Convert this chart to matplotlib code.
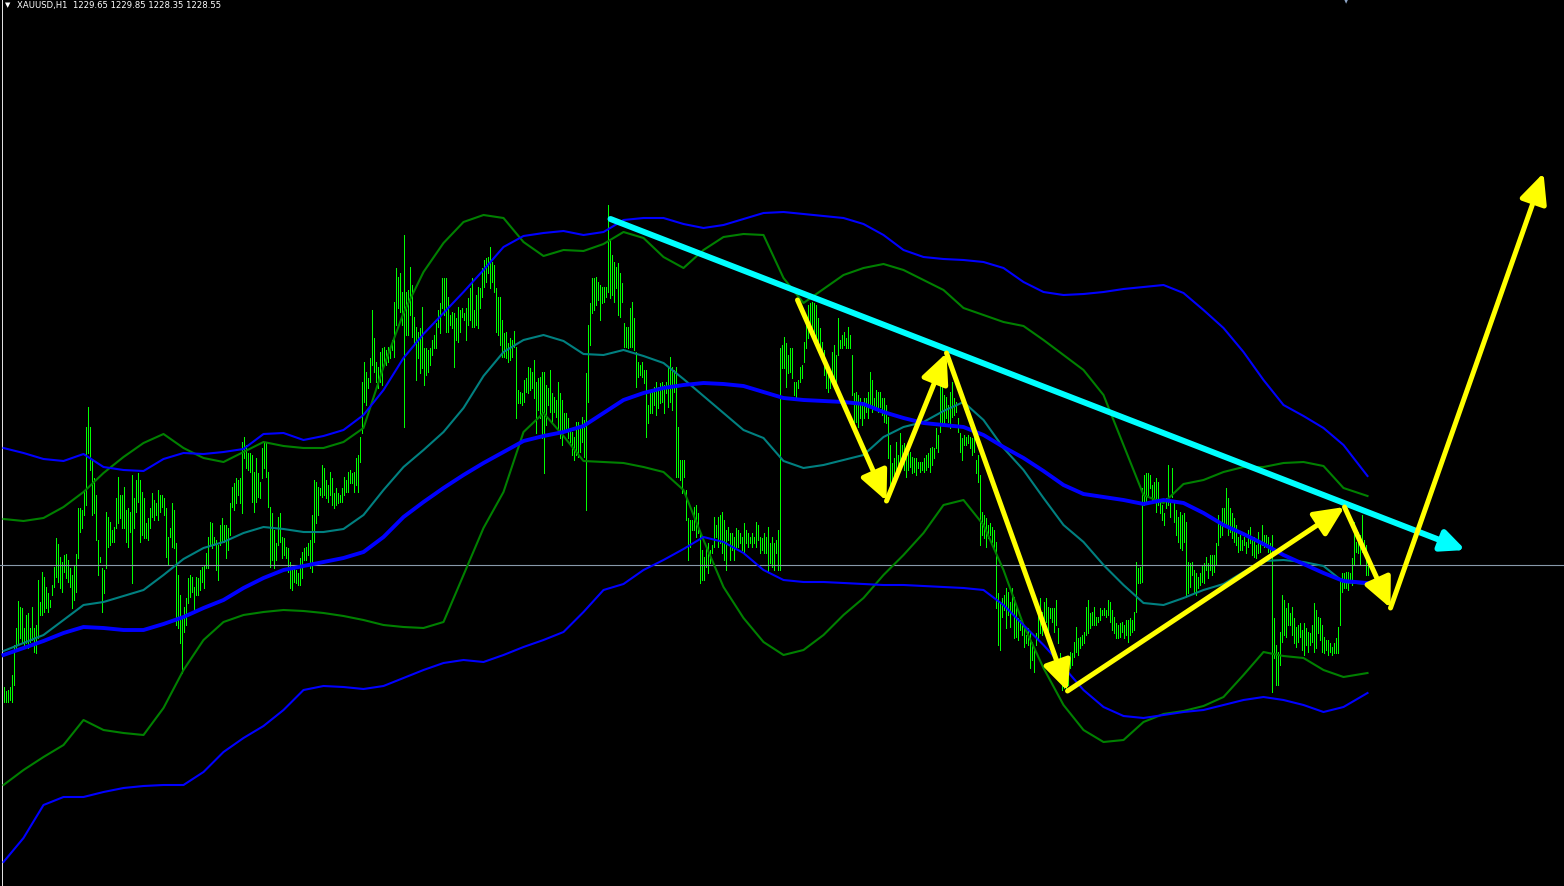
import numpy as np
import matplotlib
matplotlib.use("Agg")
import matplotlib.pyplot as plt
from matplotlib.patches import FancyArrowPatch

SYMBOL = "XAUUSD,H1"
OHLC_LAST = [1229.65, 1229.85, 1228.35, 1228.55]
BID = 1228.55

HIGH = [
    1216.3, 1215.9, 1216.0, 1216.3, 1217.5, 1220.5, 1222.2, 1224.9, 1224.3, 1224.2,
    1222.2, 1223.5, 1223.7, 1222.2, 1224.3, 1222.2, 1222.5, 1227.0, 1224.8, 1227.8,
    1227.3, 1226.3, 1225.7, 1225.0, 1226.5, 1228.3, 1231.2, 1230.6, 1229.3, 1228.8,
    1229.5, 1229.6, 1229.0, 1228.2, 1227.5, 1228.5, 1229.6, 1234.2, 1234.2, 1234.0,
    1235.8, 1242.3, 1244.3, 1242.3, 1239.0, 1237.2, 1235.5, 1231.0, 1229.3, 1228.2,
    1228.0, 1233.8, 1233.3, 1232.8, 1232.0, 1232.3, 1235.2, 1237.3, 1235.5, 1235.5,
    1236.3, 1234.0, 1234.2, 1233.8, 1237.5, 1235.2, 1237.0, 1237.7, 1237.0, 1235.8,
    1235.2, 1232.7, 1233.2, 1234.2, 1235.7, 1235.0, 1234.7, 1236.0, 1235.5, 1235.5,
    1235.2, 1234.2, 1231.3, 1232.2, 1234.7, 1234.0, 1230.7, 1227.5, 1225.5, 1223.3,
    1224.3, 1225.2, 1227.2, 1227.5, 1227.3, 1226.3, 1227.3, 1227.2, 1228.0, 1228.3,
    1228.5, 1229.7, 1231.3, 1232.8, 1232.7, 1231.3, 1231.0, 1230.5, 1232.5, 1233.2,
    1232.5, 1232.5, 1232.2, 1234.7, 1236.3, 1236.7, 1237.2, 1237.0, 1237.2, 1240.8,
    1241.3, 1240.5, 1239.7, 1239.7, 1239.5, 1237.8, 1239.2, 1237.7, 1236.8, 1240.2,
    1240.8, 1240.8, 1237.8, 1234.3, 1233.7, 1232.0, 1230.7, 1233.3, 1233.7, 1231.3,
    1231.2, 1230.3, 1230.2, 1228.8, 1228.2, 1228.3, 1228.0, 1227.7, 1229.2, 1229.8,
    1230.2, 1230.3, 1230.7, 1231.0, 1233.5, 1237.0, 1236.8, 1236.3, 1236.2, 1238.5,
    1238.2, 1237.0, 1236.5, 1237.8, 1237.2, 1235.7, 1236.2, 1235.7, 1235.5, 1236.2,
    1237.3, 1237.0, 1237.8, 1238.0, 1237.7, 1237.8, 1239.2, 1239.5, 1241.3, 1246.8,
    1248.8, 1247.8, 1247.2, 1249.2, 1254.0, 1251.2, 1248.8, 1248.3, 1249.8, 1250.2,
    1250.3, 1250.0, 1250.3, 1250.3, 1251.0, 1254.8, 1258.2, 1257.3, 1257.7, 1255.8,
    1261.5, 1255.8, 1256.0, 1258.3, 1256.5, 1253.3, 1252.3, 1251.8, 1252.2, 1254.3,
    1250.2, 1250.2, 1250.0, 1250.2, 1251.0, 1251.5, 1252.7, 1254.0, 1254.7, 1257.2,
    1257.2, 1257.2, 1255.3, 1253.5, 1253.8, 1253.7, 1253.2, 1254.3, 1254.0, 1254.2,
    1253.7, 1254.2, 1255.2, 1256.2, 1257.2, 1254.0, 1255.5, 1256.3, 1256.2, 1258.2,
    1259.0, 1259.2, 1259.3, 1260.3, 1258.8, 1258.5, 1256.2, 1255.3, 1255.3, 1253.0,
    1251.7, 1251.8, 1250.7, 1251.2, 1251.0, 1251.9, 1250.3, 1246.0, 1245.8, 1245.7,
    1247.0, 1247.2, 1248.3, 1248.2, 1247.8, 1249.0, 1246.8, 1247.2, 1247.3, 1247.8,
    1247.8, 1246.5, 1246.2, 1248.0, 1245.7, 1245.3, 1245.0, 1246.8, 1245.7, 1245.0,
    1243.7, 1243.7, 1243.2, 1242.2, 1241.8, 1241.3, 1242.8, 1242.8, 1242.5, 1243.3,
    1243.0, 1247.7, 1252.5, 1254.7, 1257.2, 1257.2, 1257.3, 1256.8, 1256.5, 1256.3,
    1256.3, 1256.3, 1264.5, 1261.0, 1259.5, 1258.8, 1258.3, 1258.7, 1257.7, 1256.7,
    1252.7, 1252.3, 1252.3, 1254.2, 1254.8, 1253.2, 1249.8, 1248.8, 1248.5, 1248.8,
    1248.0, 1248.0, 1244.5, 1245.7, 1246.0, 1246.3, 1246.8, 1246.3, 1246.7, 1246.8,
    1246.5, 1246.8, 1248.2, 1249.3, 1248.3, 1248.0, 1248.3, 1242.3, 1239.0, 1239.0,
    1239.0, 1236.0, 1233.2, 1233.0, 1233.0, 1234.3, 1234.5, 1233.7, 1231.7, 1230.0,
    1229.3, 1230.3, 1230.7, 1230.0, 1230.5, 1233.3, 1232.5, 1233.3, 1233.5, 1233.8,
    1233.0, 1232.0, 1232.3, 1231.7, 1231.7, 1231.3, 1232.2, 1232.0, 1231.7, 1231.3,
    1232.7, 1232.0, 1231.7, 1231.3, 1231.7, 1231.3, 1232.8, 1232.5, 1231.3, 1231.2,
    1231.7, 1231.3, 1232.3, 1230.7, 1231.3, 1230.7, 1231.0, 1232.0, 1250.2, 1250.5,
    1251.3, 1250.7, 1249.5, 1250.2, 1250.2, 1246.8, 1246.8, 1247.0, 1248.3, 1248.5,
    1250.8, 1253.0, 1254.5, 1254.7, 1254.8, 1254.7, 1254.5, 1253.2, 1252.2, 1250.8,
    1250.0, 1248.8, 1248.2, 1248.0, 1249.8, 1250.5, 1249.5, 1253.2, 1251.0, 1251.5,
    1251.8, 1251.2, 1252.3, 1251.5, 1249.5, 1245.7, 1245.8, 1245.5, 1245.2, 1244.8,
    1245.2, 1245.2, 1245.8, 1247.8, 1247.0, 1245.2, 1246.0, 1245.8, 1245.8, 1245.2,
    1245.2, 1244.5, 1243.3, 1240.5, 1238.7, 1239.2, 1240.8, 1239.5, 1241.7, 1240.5,
    1240.7, 1239.5, 1239.7, 1239.8, 1239.3, 1239.2, 1239.2, 1238.8, 1238.8, 1238.8,
    1239.2, 1239.5, 1239.7, 1240.2, 1240.3, 1240.2, 1242.2, 1241.5, 1246.5, 1246.5,
    1245.5, 1245.3, 1244.5, 1245.8, 1246.8, 1245.2, 1244.8, 1243.2, 1241.7, 1241.2,
    1241.5, 1241.3, 1241.5, 1241.3, 1241.2, 1241.5, 1239.0, 1239.5, 1237.5, 1233.8,
    1233.5, 1233.2, 1232.5, 1232.7, 1232.3, 1232.0, 1230.8, 1225.7, 1224.8, 1225.2,
    1225.5, 1226.2, 1225.8, 1224.8, 1226.2, 1225.3, 1224.5, 1223.2, 1223.0, 1222.8,
    1222.2, 1221.5, 1222.2, 1221.7, 1220.8, 1220.2, 1221.7, 1224.2, 1225.2, 1223.8,
    1224.8, 1225.2, 1224.3, 1224.2, 1224.2, 1224.2, 1225.0, 1222.2, 1219.7, 1216.8,
    1217.5, 1218.2, 1218.5, 1219.8, 1219.7, 1220.8, 1222.3, 1221.2, 1221.3, 1221.5,
    1221.8, 1224.3, 1225.0, 1223.7, 1223.8, 1224.3, 1223.3, 1223.3, 1224.2, 1224.0,
    1224.2, 1224.0, 1225.0, 1224.8, 1224.0, 1223.3, 1222.7, 1222.5, 1222.7, 1222.8,
    1222.5, 1223.0, 1223.0, 1223.2, 1223.0, 1223.8, 1228.8, 1228.2, 1228.3, 1236.2,
    1237.5, 1237.7, 1237.7, 1237.5, 1236.5, 1236.8, 1237.2, 1236.8, 1235.0, 1234.5,
    1233.7, 1235.2, 1238.5, 1235.0, 1238.2, 1234.8, 1234.0, 1233.3, 1233.8, 1233.5,
    1233.7, 1232.8, 1228.8, 1228.7, 1228.8, 1228.0, 1227.7, 1227.3, 1227.7, 1228.5,
    1228.7, 1229.3, 1228.7, 1229.5, 1229.5, 1229.5, 1230.7, 1233.5, 1232.5, 1234.2,
    1234.2, 1236.2, 1235.2, 1234.2, 1233.7, 1233.2, 1232.5, 1231.3, 1231.5, 1231.0,
    1231.3, 1230.8, 1232.0, 1232.3, 1231.2, 1231.3, 1230.5, 1231.8, 1230.8, 1232.5,
    1231.5, 1231.5, 1231.3, 1230.7, 1231.5, 1223.2, 1220.5, 1219.8, 1221.8, 1225.5,
    1225.0, 1224.2, 1224.7, 1223.7, 1224.3, 1223.2, 1222.3, 1222.5, 1222.7, 1222.0,
    1222.7, 1222.2, 1221.8, 1221.7, 1222.5, 1224.7, 1224.0, 1223.3, 1223.2, 1222.5,
    1221.3, 1221.0, 1221.0, 1220.7, 1220.3, 1220.7, 1221.2, 1222.3, 1227.2, 1227.7,
    1227.7, 1227.8, 1227.8, 1227.7, 1229.2, 1232.8, 1230.8, 1231.8, 1231.5, 1233.5,
    1231.0, 1230.5, 1229.2,
]

LOW = [
    1214.8, 1214.8, 1214.8, 1215.0, 1214.8, 1216.5, 1220.2, 1220.5, 1221.2, 1220.8,
    1220.2, 1220.7, 1220.2, 1220.8, 1221.0, 1219.8, 1219.7, 1221.2, 1223.5, 1223.5,
    1223.8, 1224.2, 1223.8, 1224.3, 1225.5, 1226.3, 1227.3, 1226.8, 1226.2, 1225.8,
    1227.8, 1227.2, 1226.8, 1226.3, 1224.2, 1225.0, 1225.8, 1229.2, 1231.8, 1232.2,
    1233.5, 1234.5, 1239.7, 1238.0, 1233.5, 1233.7, 1231.0, 1227.5, 1228.8, 1223.8,
    1225.7, 1228.2, 1230.3, 1230.5, 1230.8, 1230.8, 1232.2, 1232.7, 1233.2, 1232.2,
    1232.2, 1230.8, 1230.3, 1231.8, 1226.7, 1232.2, 1233.8, 1234.8, 1230.8, 1231.5,
    1231.2, 1231.2, 1231.0, 1232.2, 1233.3, 1233.0, 1233.5, 1233.0, 1233.8, 1234.3,
    1233.5, 1229.3, 1228.5, 1231.3, 1230.3, 1230.2, 1222.5, 1222.2, 1220.7, 1217.7,
    1221.8, 1222.5, 1224.7, 1225.3, 1225.8, 1223.8, 1225.5, 1225.5, 1226.0, 1226.8,
    1226.2, 1228.2, 1228.2, 1230.5, 1230.2, 1230.5, 1228.0, 1227.0, 1230.5, 1230.8,
    1230.8, 1229.2, 1230.0, 1231.5, 1234.3, 1234.0, 1234.7, 1235.5, 1234.7, 1233.7,
    1239.2, 1238.2, 1238.0, 1237.8, 1234.8, 1233.8, 1234.8, 1235.3, 1235.2, 1237.2,
    1238.2, 1237.3, 1234.3, 1228.3, 1229.0, 1228.2, 1229.0, 1230.5, 1230.8, 1229.2,
    1229.5, 1229.2, 1227.8, 1226.2, 1226.0, 1226.8, 1226.7, 1226.5, 1226.5, 1227.2,
    1229.0, 1229.0, 1229.5, 1228.2, 1227.8, 1230.8, 1232.7, 1233.5, 1235.5, 1235.3,
    1235.5, 1235.2, 1234.8, 1235.5, 1234.5, 1234.2, 1234.5, 1234.7, 1234.8, 1234.8,
    1235.5, 1235.8, 1235.8, 1236.7, 1236.7, 1235.8, 1236.5, 1235.8, 1238.8, 1241.7,
    1244.8, 1244.5, 1246.2, 1246.8, 1248.5, 1247.8, 1246.8, 1246.2, 1246.8, 1246.5,
    1248.5, 1248.5, 1248.8, 1249.2, 1250.0, 1249.3, 1252.5, 1254.2, 1253.8, 1252.5,
    1242.3, 1251.5, 1251.5, 1253.5, 1251.3, 1250.5, 1247.0, 1249.2, 1247.7, 1248.2,
    1246.5, 1247.5, 1247.8, 1248.5, 1249.5, 1250.2, 1250.2, 1252.3, 1251.7, 1254.2,
    1253.5, 1251.8, 1251.8, 1252.5, 1252.2, 1248.3, 1251.0, 1250.8, 1251.8, 1253.3,
    1253.0, 1251.0, 1252.5, 1253.0, 1252.3, 1252.3, 1252.5, 1252.2, 1254.2, 1255.3,
    1256.3, 1256.8, 1257.7, 1256.2, 1256.8, 1255.8, 1251.8, 1251.5, 1250.5, 1249.3,
    1249.3, 1249.2, 1248.8, 1249.0, 1249.3, 1250.3, 1243.2, 1244.7, 1244.7, 1244.5,
    1244.8, 1245.8, 1245.7, 1246.0, 1246.2, 1245.2, 1241.7, 1244.0, 1243.2, 1241.2,
    1237.7, 1242.5, 1244.5, 1243.8, 1242.8, 1243.8, 1243.3, 1242.2, 1241.2, 1240.5,
    1241.8, 1241.8, 1241.2, 1240.8, 1239.5, 1239.0, 1239.5, 1239.3, 1239.8, 1240.8,
    1239.3, 1234.0, 1244.8, 1250.5, 1253.7, 1254.0, 1254.5, 1255.0, 1253.0, 1254.7,
    1254.8, 1255.3, 1255.8, 1255.2, 1255.5, 1254.8, 1256.2, 1253.5, 1253.3, 1254.8,
    1250.3, 1250.3, 1250.2, 1250.3, 1250.3, 1250.0, 1246.3, 1247.3, 1247.5, 1247.3,
    1246.7, 1241.3, 1242.7, 1243.7, 1243.7, 1244.5, 1243.5, 1244.2, 1244.7, 1244.8,
    1243.7, 1245.7, 1244.3, 1244.8, 1244.0, 1245.8, 1237.3, 1237.3, 1237.0, 1235.7,
    1237.3, 1233.0, 1229.0, 1230.3, 1232.0, 1232.0, 1231.3, 1231.7, 1226.7, 1227.0,
    1227.0, 1228.3, 1227.7, 1228.7, 1229.7, 1230.3, 1231.3, 1230.3, 1230.7, 1229.7,
    1229.0, 1228.0, 1231.0, 1229.0, 1230.0, 1229.0, 1230.3, 1230.3, 1230.7, 1230.0,
    1229.7, 1230.7, 1230.3, 1230.7, 1230.3, 1230.7, 1230.3, 1231.0, 1229.7, 1230.0,
    1229.7, 1229.7, 1227.8, 1228.7, 1228.3, 1228.0, 1229.7, 1228.0, 1228.0, 1248.2,
    1248.2, 1246.3, 1247.7, 1247.8, 1247.2, 1245.5, 1245.3, 1246.2, 1246.8, 1247.2,
    1248.8, 1250.2, 1251.2, 1251.7, 1251.3, 1251.5, 1250.3, 1250.5, 1249.5, 1249.8,
    1247.5, 1246.2, 1245.8, 1246.2, 1247.0, 1246.5, 1246.8, 1249.5, 1250.2, 1250.2,
    1250.5, 1250.2, 1250.2, 1250.2, 1245.5, 1242.5, 1242.8, 1242.3, 1243.2, 1242.5,
    1243.2, 1243.8, 1243.2, 1244.5, 1243.8, 1244.3, 1244.2, 1243.8, 1244.3, 1243.5,
    1242.8, 1242.7, 1239.2, 1236.5, 1236.7, 1237.5, 1237.8, 1237.8, 1238.8, 1238.8,
    1238.0, 1237.3, 1238.0, 1238.3, 1237.7, 1237.8, 1237.5, 1238.2, 1237.8, 1238.0,
    1237.8, 1238.0, 1238.3, 1237.8, 1238.5, 1239.2, 1240.2, 1239.8, 1241.8, 1242.5,
    1242.5, 1243.2, 1242.8, 1242.2, 1243.3, 1243.5, 1243.8, 1241.8, 1239.8, 1239.0,
    1240.5, 1240.5, 1240.7, 1240.2, 1239.5, 1239.8, 1237.7, 1236.8, 1230.5, 1231.5,
    1231.2, 1230.3, 1231.2, 1231.5, 1230.8, 1230.2, 1224.2, 1220.5, 1220.0, 1223.3,
    1224.0, 1222.2, 1223.5, 1222.3, 1223.8, 1221.2, 1221.3, 1221.0, 1222.0, 1221.5,
    1220.3, 1220.7, 1220.5, 1218.2, 1219.0, 1217.8, 1220.5, 1221.2, 1221.7, 1221.5,
    1221.8, 1222.8, 1221.8, 1223.2, 1222.8, 1221.8, 1222.5, 1220.7, 1218.3, 1216.0,
    1216.2, 1216.2, 1216.5, 1218.2, 1218.5, 1219.3, 1219.8, 1219.5, 1220.2, 1220.5,
    1220.7, 1221.5, 1221.7, 1222.2, 1222.5, 1222.5, 1222.5, 1222.8, 1223.0, 1223.5,
    1223.5, 1223.3, 1223.5, 1222.8, 1222.0, 1221.7, 1221.2, 1221.2, 1221.3, 1221.8,
    1221.2, 1221.5, 1220.8, 1221.5, 1221.8, 1222.0, 1223.8, 1226.7, 1226.7, 1226.8,
    1234.5, 1234.8, 1235.5, 1236.2, 1235.0, 1235.2, 1233.8, 1234.5, 1233.7, 1233.0,
    1232.5, 1234.2, 1234.5, 1233.3, 1235.3, 1232.8, 1231.5, 1230.8, 1230.2, 1230.0,
    1230.8, 1225.3, 1225.7, 1226.3, 1227.5, 1225.7, 1225.5, 1226.2, 1226.5, 1226.8,
    1226.7, 1228.0, 1227.2, 1228.0, 1227.5, 1227.8, 1228.5, 1230.5, 1231.3, 1231.5,
    1232.5, 1232.5, 1231.5, 1231.8, 1231.2, 1230.8, 1230.5, 1229.8, 1230.0, 1230.0,
    1230.5, 1229.7, 1230.3, 1230.7, 1229.5, 1229.3, 1229.2, 1229.7, 1229.8, 1230.5,
    1230.3, 1230.3, 1229.8, 1229.5, 1215.8, 1219.2, 1216.5, 1216.5, 1218.5, 1220.8,
    1221.5, 1221.3, 1222.5, 1222.5, 1221.5, 1220.7, 1220.3, 1220.8, 1221.3, 1220.0,
    1219.5, 1220.5, 1219.8, 1220.5, 1220.8, 1219.8, 1220.2, 1221.7, 1221.0, 1219.8,
    1219.7, 1220.0, 1219.5, 1219.8, 1219.5, 1219.7, 1219.7, 1219.7, 1222.5, 1225.8,
    1226.2, 1226.2, 1226.0, 1226.8, 1226.5, 1228.5, 1229.8, 1229.7, 1228.5, 1229.8,
    1229.5, 1227.5, 1227.5,
]

# indicator lines, sampled every 10 bars
BAND_IDX = list(range(0, 680, 10)) + [682]

LONG_UPPER = [
    1240.2, 1239.7, 1239.1, 1238.9, 1239.6, 1238.3, 1238.0, 1237.9, 1239.1, 1239.7,
    1239.6, 1239.8, 1240.1, 1241.6, 1241.7, 1241.0, 1241.4, 1242.0, 1243.5, 1246.0,
    1249.2, 1251.6, 1253.7, 1255.8, 1258.0, 1260.3, 1261.4, 1261.7, 1261.9, 1261.5,
    1261.8, 1263.0, 1263.2, 1263.2, 1262.6, 1262.2, 1262.5, 1263.1, 1263.7, 1263.8,
    1263.6, 1263.4, 1263.2, 1262.6, 1261.5, 1260.0, 1259.3, 1259.1, 1259.0, 1258.8,
    1258.2, 1256.8, 1255.8, 1255.5, 1255.6, 1255.8, 1256.1, 1256.3, 1256.5, 1255.7,
    1254.0, 1252.2, 1249.8, 1247.0, 1244.5, 1243.4, 1242.2, 1240.5, 1237.4,
]
LONG_LOWER = [
    1198.8, 1201.2, 1204.5, 1205.3, 1205.3, 1205.8, 1206.2, 1206.4, 1206.5, 1206.5,
    1207.8, 1209.8, 1211.2, 1212.4, 1214.0, 1216.0, 1216.4, 1216.3, 1216.1, 1216.4,
    1217.2, 1218.0, 1218.7, 1219.0, 1218.8, 1219.5, 1220.3, 1221.0, 1221.8, 1223.8,
    1226.0, 1226.6, 1228.0, 1229.0, 1230.1, 1231.3, 1230.8, 1229.7, 1228.0, 1227.0,
    1226.8, 1226.8, 1226.7, 1226.6, 1226.5, 1226.5, 1226.4, 1226.3, 1226.2, 1226.0,
    1224.5, 1222.5, 1220.5, 1218.3, 1216.0, 1214.3, 1213.4, 1213.2, 1213.5, 1213.8,
    1214.0, 1214.5, 1215.0, 1215.3, 1215.0, 1214.5, 1213.8, 1214.3, 1215.7,
]
LONG_MID = [
    1219.5, 1220.2, 1220.9, 1221.7, 1222.3, 1222.2, 1222.0, 1222.0, 1222.6, 1223.3,
    1224.2, 1225.0, 1226.2, 1227.2, 1228.0, 1228.4, 1228.8, 1229.2, 1229.8, 1231.3,
    1233.3, 1234.8, 1236.2, 1237.5, 1238.7, 1239.8, 1240.9, 1241.4, 1241.8, 1242.4,
    1243.7, 1245.0, 1245.7, 1246.2, 1246.5, 1246.7, 1246.6, 1246.4, 1245.8, 1245.2,
    1245.0, 1244.9, 1244.8, 1244.6, 1243.8, 1243.2, 1242.7, 1242.5, 1242.3, 1241.5,
    1240.3, 1239.2, 1237.9, 1236.5, 1235.6, 1235.3, 1235.0, 1234.6, 1235.0, 1234.7,
    1233.7, 1232.5, 1231.6, 1230.6, 1229.5, 1228.6, 1227.7, 1226.9, 1226.7,
]
SHORT_MID = [
    1219.9, 1220.7, 1221.5, 1223.0, 1224.5, 1224.8, 1225.4, 1226.0, 1227.5, 1229.1,
    1230.2, 1230.8, 1231.7, 1232.3, 1232.1, 1231.8, 1231.8, 1232.1, 1233.5, 1236.0,
    1238.3, 1240.0, 1241.8, 1244.2, 1247.4, 1249.8, 1251.0, 1251.5, 1250.9, 1249.6,
    1249.5, 1250.0, 1249.4, 1248.7, 1247.1, 1245.4, 1243.7, 1242.0, 1241.2, 1238.9,
    1238.2, 1238.5, 1239.0, 1239.5, 1241.3, 1242.3, 1242.8, 1243.9, 1244.8, 1243.0,
    1240.2, 1238.0, 1235.2, 1232.5, 1230.8, 1228.5, 1226.5, 1224.7, 1224.5, 1225.2,
    1226.0, 1226.6, 1227.8, 1228.9, 1229.0, 1228.8, 1228.4, 1226.8, 1226.6,
]
SHORT_UPPER = [
    1233.1, 1232.9, 1233.2, 1234.3, 1235.8, 1237.7, 1239.3, 1240.7, 1241.6, 1240.2,
    1239.2, 1238.8, 1239.8, 1240.8, 1240.4, 1240.2, 1240.2, 1240.8, 1242.2, 1248.3,
    1253.7, 1257.8, 1260.7, 1262.8, 1263.5, 1263.2, 1260.8, 1259.4, 1260.0, 1259.9,
    1260.6, 1261.8, 1261.2, 1259.3, 1258.2, 1260.0, 1261.3, 1261.6, 1261.5, 1257.2,
    1254.7, 1256.1, 1257.5, 1258.2, 1258.6, 1258.0, 1257.0, 1256.0, 1254.2, 1253.5,
    1252.8, 1252.4, 1251.0, 1249.5, 1248.0, 1245.5, 1240.5, 1235.5, 1234.7, 1236.6,
    1237.0, 1237.8, 1238.3, 1238.3, 1238.7, 1238.8, 1238.4, 1236.2, 1235.4,
]
SHORT_LOWER = [
    1206.5, 1208.0, 1209.3, 1210.5, 1213.0, 1212.0, 1211.7, 1211.5, 1214.2, 1218.0,
    1221.0, 1222.8, 1223.5, 1223.8, 1224.0, 1223.9, 1223.7, 1223.4, 1223.0, 1222.5,
    1222.3, 1222.2, 1222.8, 1227.5, 1232.2, 1235.8, 1241.8, 1243.7, 1241.4, 1238.9,
    1238.8, 1238.7, 1238.3, 1237.8, 1236.0, 1231.0, 1226.3, 1223.2, 1220.8, 1219.5,
    1220.0, 1221.5, 1223.5, 1225.2, 1227.5, 1229.5, 1231.7, 1234.5, 1235.0, 1232.5,
    1228.0, 1222.5, 1218.2, 1214.5, 1212.0, 1210.8, 1211.0, 1212.8, 1213.6, 1213.9,
    1214.4, 1215.3, 1217.5, 1219.8, 1219.4, 1219.2, 1218.0, 1217.3, 1217.7,
]

# drawn annotations (bar index, price)
TREND_IDX = [303.5, 731.0]
TREND_PRICE = [1263.1, 1230.0]
PATH_IDX = [397.0, 441.5, 471.5, 532.0, 670.5, 693.5, 770.0]
PATH_PRICE = [1255.0, 1234.9, 1249.7, 1215.9, 1234.3, 1224.2, 1267.7]

assert len(HIGH) == len(LOW)
for band in (LONG_UPPER, LONG_LOWER, LONG_MID, SHORT_MID, SHORT_UPPER, SHORT_LOWER):
    assert len(band) == len(BAND_IDX), len(band)

W, H = 1564, 886
fig = plt.figure(figsize=(W / 100, H / 100), dpi=100, facecolor="black")
ax = fig.add_axes([0, 0, 1, 1])
ax.set_facecolor("black")
# 2 px per bar; offset so each bar sits on a pixel centre
ax.set_xlim(-1.75, 780.25)
ax.set_ylim(1196.4, 1285.0)
ax.axis("off")

# left chart border
ax.axvline(-1.0, color="#e0e0e0", lw=0.72, antialiased=False, zorder=1)

# HL bars
idx = np.arange(len(HIGH))
ax.vlines(idx, LOW, HIGH, colors="#00ff00", linewidth=0.72,
          antialiased=False, zorder=2)

# bid line
ax.axhline(BID, color="#8899aa", lw=0.8, zorder=3)

# indicator lines
ax.plot(BAND_IDX, SHORT_UPPER, color="#008000", lw=1.5, zorder=4)
ax.plot(BAND_IDX, SHORT_LOWER, color="#008000", lw=1.5, zorder=4)
ax.plot(BAND_IDX, SHORT_MID, color="#008080", lw=1.5, zorder=4)
ax.plot(BAND_IDX, LONG_UPPER, color="#0000ff", lw=1.5, zorder=4)
ax.plot(BAND_IDX, LONG_LOWER, color="#0000ff", lw=1.5, zorder=4)
ax.plot(BAND_IDX, LONG_MID, color="#0000ff", lw=2.8, zorder=5)

# trend line
ax.add_patch(FancyArrowPatch((TREND_IDX[0], TREND_PRICE[0]), (TREND_IDX[1], TREND_PRICE[1]),
                             arrowstyle="-|>,head_length=0.7,head_width=0.32",
                             mutation_scale=20, color="#00ffff", lw=4.3,
                             shrinkA=0, shrinkB=0, capstyle="round", zorder=6))

# projected path
for j in range(len(PATH_IDX) - 1):
    ax.add_patch(FancyArrowPatch((PATH_IDX[j], PATH_PRICE[j]),
                                 (PATH_IDX[j + 1], PATH_PRICE[j + 1]),
                                 arrowstyle="-|>,head_length=0.9,head_width=0.42",
                                 mutation_scale=20, color="#ffff00", lw=3.6,
                                 shrinkA=0, shrinkB=0, zorder=7))

# header text
title = "%s  %s" % (SYMBOL, " ".join("%.2f" % v for v in OHLC_LAST))
fig.text(4.5 / W, 1 - 5.5 / H, "\u25BC", color="white", fontsize=5,
         ha="left", va="center", family="DejaVu Sans")
fig.text(17 / W, 1 - 5.5 / H, title, color="white", fontsize=6.1,
         ha="left", va="center", family="DejaVu Sans")

# shift marker at top
fig.text(1346 / W, 1 - 1.5 / H, "\u25BC", color="#8fa6c8", fontsize=4,
         ha="center", va="center", family="DejaVu Sans")

fig.savefig("out.png", dpi=100, facecolor="black")
